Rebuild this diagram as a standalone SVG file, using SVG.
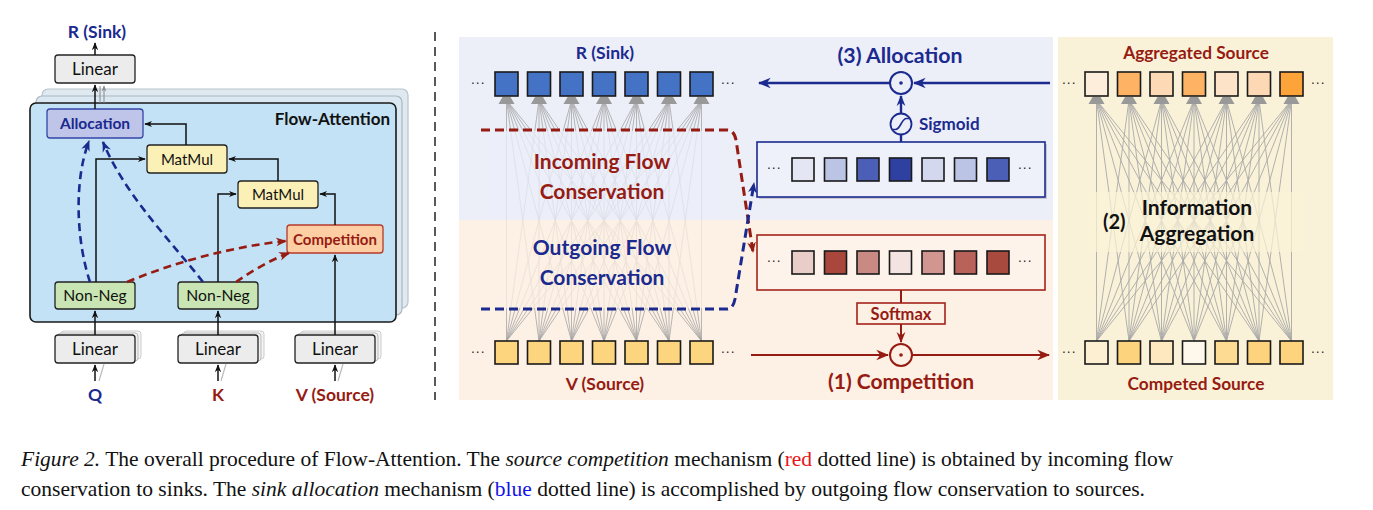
<svg xmlns="http://www.w3.org/2000/svg" xmlns:xlink="http://www.w3.org/1999/xlink" width="1373" height="510" viewBox="0 0 1373 510">
<style>
.lbl{font-family:Lato,"Open Sans","DejaVu Sans",sans-serif;}
.b{font-weight:bold;}
.blue{fill:#1b2a8e;}
.red{fill:#961b12;}
.box{stroke:#222;stroke-width:1.3;}
.ln{fill:none;stroke:#111;stroke-width:1.5;}
.dots{font-family:"DejaVu Sans",sans-serif;font-size:12px;fill:#222;letter-spacing:1px;}
.sq{stroke:#1a1a1a;stroke-width:1.6;}
.cap{font-family:"Liberation Serif","Times New Roman",serif;font-size:21.5px;fill:#111;}
.it{font-style:italic;}
</style>
<defs>
<marker id="ak" viewBox="0 0 10 10" refX="9" refY="5" markerWidth="8" markerHeight="8" markerUnits="userSpaceOnUse" orient="auto"><path d="M0 1 L10 5 L0 9 L3 5Z" fill="#111"/></marker>
<marker id="ag" viewBox="0 0 10 10" refX="9" refY="5" markerWidth="6" markerHeight="6" markerUnits="userSpaceOnUse" orient="auto"><path d="M0 1 L10 5 L0 9 L3 5Z" fill="#888"/></marker>
<marker id="ab" viewBox="0 0 10 10" refX="9" refY="5" markerWidth="11" markerHeight="11" markerUnits="userSpaceOnUse" orient="auto"><path d="M0 1 L10 5 L0 9 L3 5Z" fill="#1b2a8e"/></marker>
<marker id="ar" viewBox="0 0 10 10" refX="9" refY="5" markerWidth="11" markerHeight="11" markerUnits="userSpaceOnUse" orient="auto"><path d="M0 1 L10 5 L0 9 L3 5Z" fill="#961b12"/></marker>
<marker id="ab2" viewBox="0 0 10 10" refX="9" refY="5" markerWidth="13" markerHeight="13" markerUnits="userSpaceOnUse" orient="auto"><path d="M0 1 L10 5 L0 9 L3 5Z" fill="#1b2a8e"/></marker>
<marker id="ar2" viewBox="0 0 10 10" refX="9" refY="5" markerWidth="13" markerHeight="13" markerUnits="userSpaceOnUse" orient="auto"><path d="M0 1 L10 5 L0 9 L3 5Z" fill="#961b12"/></marker>
<path id="fan" fill="none" d="M506.5 341L506.5 100M539 341L506.5 100M571.5 341L506.5 100M604 341L506.5 100M636.5 341L506.5 100M669 341L506.5 100M701.5 341L506.5 100M506.5 341L539 100M539 341L539 100M571.5 341L539 100M604 341L539 100M636.5 341L539 100M669 341L539 100M701.5 341L539 100M506.5 341L571.5 100M539 341L571.5 100M571.5 341L571.5 100M604 341L571.5 100M636.5 341L571.5 100M669 341L571.5 100M701.5 341L571.5 100M506.5 341L604 100M539 341L604 100M571.5 341L604 100M604 341L604 100M636.5 341L604 100M669 341L604 100M701.5 341L604 100M506.5 341L636.5 100M539 341L636.5 100M571.5 341L636.5 100M604 341L636.5 100M636.5 341L636.5 100M669 341L636.5 100M701.5 341L636.5 100M506.5 341L669 100M539 341L669 100M571.5 341L669 100M604 341L669 100M636.5 341L669 100M669 341L669 100M701.5 341L669 100M506.5 341L701.5 100M539 341L701.5 100M571.5 341L701.5 100M604 341L701.5 100M636.5 341L701.5 100M669 341L701.5 100M701.5 341L701.5 100"/>
<g id="blobs" fill="#999">
<path d="M498.5 104 L514.5 104 L510.5 97 L502.5 97Z"/>
<path d="M531 104 L547 104 L543 97 L535 97Z"/>
<path d="M563.5 104 L579.5 104 L575.5 97 L567.5 97Z"/>
<path d="M596 104 L612 104 L608 97 L600 97Z"/>
<path d="M628.5 104 L644.5 104 L640.5 97 L632.5 97Z"/>
<path d="M661 104 L677 104 L673 97 L665 97Z"/>
<path d="M693.5 104 L709.5 104 L705.5 97 L697.5 97Z"/>
</g>
</defs>
<rect width="1373" height="510" fill="#fff"/>

<!-- ============ LEFT PANEL ============ -->
<g id="flow-attention-stack">
<rect x="42" y="89" width="366" height="219" rx="6" fill="#dfe9f0" stroke="#b8c4cc" stroke-width="1.2"/>
<rect x="36" y="96" width="366" height="219" rx="6" fill="#dbe8f1" stroke="#a9b7c1" stroke-width="1.2"/>
<rect x="30" y="103" width="366" height="219" rx="6" fill="#c3e2f5" stroke="#1a1a1a" stroke-width="1.6"/>
<text class="lbl b" x="390" y="125" font-size="17" text-anchor="end" fill="#111">Flow-Attention</text>
</g>
<g id="linear-out">
<rect class="box" x="55" y="55" width="80" height="28" rx="3" fill="#ececec"/>
<text class="lbl" x="95" y="75" font-size="17" text-anchor="middle" fill="#111">Linear</text>
</g>
<g id="label-r-left"><text class="lbl b blue" x="97" y="38" font-size="17.5" text-anchor="middle">R (Sink)</text></g>
<g id="allocation">
<rect x="47" y="109" width="96" height="29" rx="3" fill="#bfc5e8" stroke="#3446a8" stroke-width="1.3"/>
<text class="lbl b blue" x="95" y="129" font-size="15.5" text-anchor="middle">Allocation</text>
</g>
<g id="matmul1">
<rect class="box" x="147" y="145" width="80" height="28" rx="3" fill="#fbf0b6"/>
<text class="lbl" x="187" y="164.5" font-size="15" text-anchor="middle" fill="#111">MatMul</text>
</g>
<g id="matmul2">
<rect class="box" x="238" y="181" width="80" height="27" rx="3" fill="#fbf0b6"/>
<text class="lbl" x="278" y="199.5" font-size="15" text-anchor="middle" fill="#111">MatMul</text>
</g>
<g id="competition">
<rect x="287" y="225" width="96" height="28" rx="3" fill="#fdcea4" stroke="#b53a2b" stroke-width="1.3"/>
<text class="lbl b red" x="335" y="244.5" font-size="15" text-anchor="middle">Competition</text>
</g>
<g id="nonneg-q">
<rect class="box" x="55" y="282" width="80" height="27" rx="3" fill="#c8e5b3"/>
<text class="lbl" x="95" y="301" font-size="15.7" text-anchor="middle" fill="#111">Non-Neg</text>
</g>
<g id="nonneg-k">
<rect class="box" x="178" y="282" width="80" height="27" rx="3" fill="#c8e5b3"/>
<text class="lbl" x="218" y="301" font-size="15.7" text-anchor="middle" fill="#111">Non-Neg</text>
</g>
<g id="linear-q">
<rect x="61" y="331" width="80" height="28" rx="3" fill="#f4f4f4" stroke="#ccc"/>
<rect x="58" y="333" width="80" height="28" rx="3" fill="#f0f0f0" stroke="#bbb"/>
<rect class="box" x="55" y="335" width="80" height="28" rx="3" fill="#ececec"/>
<text class="lbl" x="95" y="355" font-size="17" text-anchor="middle" fill="#111">Linear</text>
</g>
<g id="linear-k">
<rect x="184" y="331" width="80" height="28" rx="3" fill="#f4f4f4" stroke="#ccc"/>
<rect x="181" y="333" width="80" height="28" rx="3" fill="#f0f0f0" stroke="#bbb"/>
<rect class="box" x="178" y="335" width="80" height="28" rx="3" fill="#ececec"/>
<text class="lbl" x="218" y="355" font-size="17" text-anchor="middle" fill="#111">Linear</text>
</g>
<g id="linear-v">
<rect x="301" y="331" width="80" height="28" rx="3" fill="#f4f4f4" stroke="#ccc"/>
<rect x="298" y="333" width="80" height="28" rx="3" fill="#f0f0f0" stroke="#bbb"/>
<rect class="box" x="295" y="335" width="80" height="28" rx="3" fill="#ececec"/>
<text class="lbl" x="335" y="355" font-size="17" text-anchor="middle" fill="#111">Linear</text>
</g>
<g id="inputs">
<text class="lbl b blue" x="95" y="401" font-size="17.5" text-anchor="middle">Q</text>
<text class="lbl b red" x="218" y="401" font-size="17.5" text-anchor="middle">K</text>
<text class="lbl b red" x="335" y="401" font-size="17.5" text-anchor="middle">V (Source)</text>
</g>

<g id="left-connectors">
<path class="ln" d="M95 55 V43" marker-end="url(#ak)"/>
<path d="M100 103 V86 M104 103 V86" fill="none" stroke="#888" stroke-width="1" marker-end="url(#ag)"/>
<path class="ln" d="M95 109 V85" marker-end="url(#ak)"/>
<path class="ln" d="M186 145 V124 H145" marker-end="url(#ak)"/>
<path class="ln" d="M278 181 V159 H229" marker-end="url(#ak)"/>
<path class="ln" d="M96 282 V159 H145" marker-end="url(#ak)"/>
<path class="ln" d="M218 282 V194 H236" marker-end="url(#ak)"/>
<path class="ln" d="M335 225 V194 H320" marker-end="url(#ak)"/>
<path class="ln" d="M335 335 V255" marker-end="url(#ak)"/>
<path class="ln" d="M95 335 V311" marker-end="url(#ak)"/>
<path class="ln" d="M218 335 V311" marker-end="url(#ak)"/>
<path d="M99 381 L104 364 M221 381 L226 364 M338 381 L343 364" fill="none" stroke="#bbb" stroke-width="1.2"/>
<path class="ln" d="M95 381 V365" marker-end="url(#ak)"/>
<path class="ln" d="M218 381 V365" marker-end="url(#ak)"/>
<path class="ln" d="M335 381 V365" marker-end="url(#ak)"/>
<path d="M90 282 C 76 240, 74 180, 89 141" fill="none" stroke="#1b2a8e" stroke-width="2.6" stroke-dasharray="8 5" marker-end="url(#ab)"/>
<path d="M203 282 C 170 240, 125 195, 103 142" fill="none" stroke="#1b2a8e" stroke-width="2.6" stroke-dasharray="8 5" marker-end="url(#ab)"/>
<path d="M127 282 C 175 262, 235 246, 286 241" fill="none" stroke="#961b12" stroke-width="2.6" stroke-dasharray="8 5" marker-end="url(#ar)"/>
<path d="M236 282 C 252 271, 270 260, 289 253" fill="none" stroke="#961b12" stroke-width="2.6" stroke-dasharray="8 5" marker-end="url(#ar)"/>
</g>

<g id="separator"><line x1="435" y1="32" x2="435" y2="400" stroke="#222" stroke-width="1.5" stroke-dasharray="9 6"/></g>

<!-- ============ MIDDLE PANEL ============ -->
<g id="middle-bg">
<rect x="459" y="37" width="594" height="183" fill="#eceef8"/>
<rect x="459" y="220" width="594" height="180" fill="#fdf0e4"/>
</g>
<g id="middle-fan">
<use xlink:href="#fan" href="#fan" stroke="#a6a6a6" stroke-width="0.8"/>
<rect x="488" y="131" width="232" height="89" fill="#eceef8" opacity="0.78"/>
<rect x="488" y="220" width="232" height="88" fill="#fdf0e4" opacity="0.78"/>
<use xlink:href="#blobs" href="#blobs"/>
</g>
<g id="sink-row">
<text class="lbl b blue" x="605" y="59" font-size="17.5" text-anchor="middle">R (Sink)</text>
<text class="dots" x="471" y="88">···</text>
<text class="dots" x="721" y="88">···</text>
<g fill="#4472c4" class="sq">
<rect x="495" y="72" width="23" height="24"/><rect x="527.5" y="72" width="23" height="24"/><rect x="560" y="72" width="23" height="24"/><rect x="592.5" y="72" width="23" height="24"/><rect x="625" y="72" width="23" height="24"/><rect x="657.5" y="72" width="23" height="24"/><rect x="690" y="72" width="23" height="24"/>
</g>
</g>
<g id="source-row">
<text class="dots" x="471" y="357">···</text>
<text class="dots" x="721" y="357">···</text>
<g fill="#fdd57e" class="sq">
<rect x="495" y="341" width="23" height="23"/><rect x="527.5" y="341" width="23" height="23"/><rect x="560" y="341" width="23" height="23"/><rect x="592.5" y="341" width="23" height="23"/><rect x="625" y="341" width="23" height="23"/><rect x="657.5" y="341" width="23" height="23"/><rect x="690" y="341" width="23" height="23"/>
</g>
<text class="lbl b red" x="605" y="390" font-size="17.5" text-anchor="middle">V (Source)</text>
</g>
<g id="incoming-label">
<text class="lbl b red" x="602" y="169" font-size="21" text-anchor="middle">Incoming Flow</text>
<text class="lbl b red" x="602" y="199" font-size="21" text-anchor="middle">Conservation</text>
</g>
<g id="outgoing-label">
<text class="lbl b blue" x="602" y="255" font-size="21" text-anchor="middle">Outgoing Flow</text>
<text class="lbl b blue" x="602" y="285" font-size="21" text-anchor="middle">Conservation</text>
</g>
<g id="sigmoid-panel">
<rect x="759" y="144" width="288" height="55" fill="#c8c8d0"/>
<rect x="757" y="142" width="288" height="55" fill="#eef0fa" stroke="#1b2a8e" stroke-width="1.6"/>
<text class="dots" x="767" y="173">···</text>
<text class="dots" x="1018" y="173">···</text>
<g class="sq">
<rect x="792" y="158" width="22" height="23" fill="#e4e6f3"/><rect x="824.5" y="158" width="22" height="23" fill="#bcc4e6"/><rect x="857" y="158" width="22" height="23" fill="#4a5fb5"/><rect x="889.5" y="158" width="22" height="23" fill="#2e41a0"/><rect x="922" y="158" width="22" height="23" fill="#d3d8ef"/><rect x="954.5" y="158" width="22" height="23" fill="#bcc4e6"/><rect x="987" y="158" width="22" height="23" fill="#4a5fb5"/>
</g>
</g>
<g id="softmax-panel">
<rect x="757" y="235" width="288" height="55" fill="#fdf3ea" stroke="#a3241c" stroke-width="1.6"/>
<text class="dots" x="767" y="266">···</text>
<text class="dots" x="1018" y="266">···</text>
<g class="sq">
<rect x="792" y="251" width="22" height="23" fill="#e9cdc9"/><rect x="824.5" y="251" width="22" height="23" fill="#a9473d"/><rect x="857" y="251" width="22" height="23" fill="#c98a83"/><rect x="889.5" y="251" width="22" height="23" fill="#f3e4e1"/><rect x="922" y="251" width="22" height="23" fill="#d0968f"/><rect x="954.5" y="251" width="22" height="23" fill="#b9625a"/><rect x="987" y="251" width="22" height="23" fill="#a94a3f"/>
</g>
</g>
<g id="sigmoid">
<circle cx="901" cy="124" r="10.5" fill="#eceef8" stroke="#1b2a8e" stroke-width="1.8"/>
<path d="M892 129.5 H895.5 C900.5 129.5, 901.5 118.5, 906.5 118.5 H910" fill="none" stroke="#1b2a8e" stroke-width="1.6"/>
<text class="lbl b blue" x="919" y="130" font-size="17">Sigmoid</text>
</g>
<g id="odot-allocation">
<circle cx="901" cy="83" r="11" fill="#eceef8" stroke="#1b2a8e" stroke-width="2"/>
<circle cx="901" cy="83" r="1.8" fill="#1b2a8e"/>
<text class="lbl b blue" x="900" y="63" font-size="21.3" text-anchor="middle">(3) Allocation</text>
</g>
<g id="softmax">
<rect x="857" y="303" width="88" height="21" fill="#fdf0e4" stroke="#a3241c" stroke-width="1.6"/>
<text class="lbl b red" x="901" y="319.5" font-size="16.5" text-anchor="middle">Softmax</text>
</g>
<g id="odot-competition">
<circle cx="901" cy="355" r="11" fill="#fdf0e4" stroke="#961b12" stroke-width="2"/>
<circle cx="901" cy="355" r="1.8" fill="#961b12"/>
<text class="lbl b red" x="901" y="389" font-size="21" text-anchor="middle">(1) Competition</text>
</g>
<g id="middle-connectors">
<path d="M1050 83 H914" fill="none" stroke="#1b2a8e" stroke-width="2.6" marker-end="url(#ab2)"/>
<path d="M890 83 H759" fill="none" stroke="#1b2a8e" stroke-width="2.6" marker-end="url(#ab2)"/>
<path d="M901 113 V96" fill="none" stroke="#1b2a8e" stroke-width="2.4" marker-end="url(#ab)"/>
<path d="M901 142 V134.5" fill="none" stroke="#1b2a8e" stroke-width="2.4"/>
<path d="M901 290 V303" fill="none" stroke="#961b12" stroke-width="2"/>
<path d="M901 324 V342" fill="none" stroke="#961b12" stroke-width="2" marker-end="url(#ar)"/>
<path d="M751 355 H888" fill="none" stroke="#961b12" stroke-width="2" marker-end="url(#ar2)"/>
<path d="M912 355 H1049" fill="none" stroke="#961b12" stroke-width="2" marker-end="url(#ar2)"/>
<path d="M481 130 H727 Q734 130 736 140 L753 252" fill="none" stroke="#961b12" stroke-width="3" stroke-dasharray="9 5" marker-end="url(#ar)"/>
<path d="M481 309 H727 Q733 309 735 299 L754 183" fill="none" stroke="#1b2a8e" stroke-width="3" stroke-dasharray="9 5" marker-end="url(#ab)"/>
</g>

<!-- ============ RIGHT PANEL ============ -->
<g id="right-bg"><rect x="1058" y="37" width="275" height="363" fill="#faf2d8"/></g>
<g id="right-fan">
<use xlink:href="#fan" href="#fan" transform="translate(590,0)" stroke="#a8a8a8" stroke-width="0.9"/>
<rect x="1088" y="192" width="215" height="60" fill="#faf2d8" opacity="0.72"/>
<use xlink:href="#blobs" href="#blobs" transform="translate(590,0)"/>
</g>
<g id="aggregated-row">
<text class="lbl b red" x="1196" y="59" font-size="17.3" text-anchor="middle">Aggregated Source</text>
<text class="dots" x="1062" y="88">···</text>
<text class="dots" x="1311" y="88">···</text>
<g class="sq">
<rect x="1085" y="72" width="23" height="24" fill="#fdeedc"/><rect x="1117.5" y="72" width="23" height="24" fill="#fdb264"/><rect x="1150" y="72" width="23" height="24" fill="#fdd9b5"/><rect x="1182.5" y="72" width="23" height="24" fill="#fdb264"/><rect x="1215" y="72" width="23" height="24" fill="#fde3c8"/><rect x="1247.5" y="72" width="23" height="24" fill="#fdd8b4"/><rect x="1280" y="72" width="23" height="24" fill="#fca33a"/>
</g>
</g>
<g id="competed-row">
<text class="dots" x="1062" y="357">···</text>
<text class="dots" x="1311" y="357">···</text>
<g class="sq">
<rect x="1085" y="341" width="23" height="23" fill="#fdefd2"/><rect x="1117.5" y="341" width="23" height="23" fill="#fdd47d"/><rect x="1150" y="341" width="23" height="23" fill="#fde8c0"/><rect x="1182.5" y="341" width="23" height="23" fill="#fef8ec"/><rect x="1215" y="341" width="23" height="23" fill="#fddb92"/><rect x="1247.5" y="341" width="23" height="23" fill="#fdd47d"/><rect x="1280" y="341" width="23" height="23" fill="#fdd47d"/>
</g>
<text class="lbl b red" x="1196" y="390" font-size="17.3" text-anchor="middle">Competed Source</text>
</g>
<g id="aggregation-label">
<text class="lbl b" x="1197" y="215" font-size="21" text-anchor="middle" fill="#111">Information</text>
<text class="lbl b" x="1197" y="241" font-size="21" text-anchor="middle" fill="#111">Aggregation</text>
<text class="lbl b" x="1103" y="229" font-size="20" fill="#111">(2)</text>
</g>

<!-- ============ CAPTION ============ -->
<g id="caption">
<text class="cap" x="21" y="466"><tspan class="it">Figure 2.</tspan> The overall procedure of Flow-Attention. The <tspan class="it">source competition</tspan> mechanism (<tspan fill="#e8141a">red</tspan> dotted line) is obtained by incoming flow</text>
<text class="cap" x="21" y="496">conservation to sinks. The <tspan class="it">sink allocation</tspan> mechanism (<tspan fill="#1414e8">blue</tspan> dotted line) is accomplished by outgoing flow conservation to sources.</text>
</g>
</svg>
